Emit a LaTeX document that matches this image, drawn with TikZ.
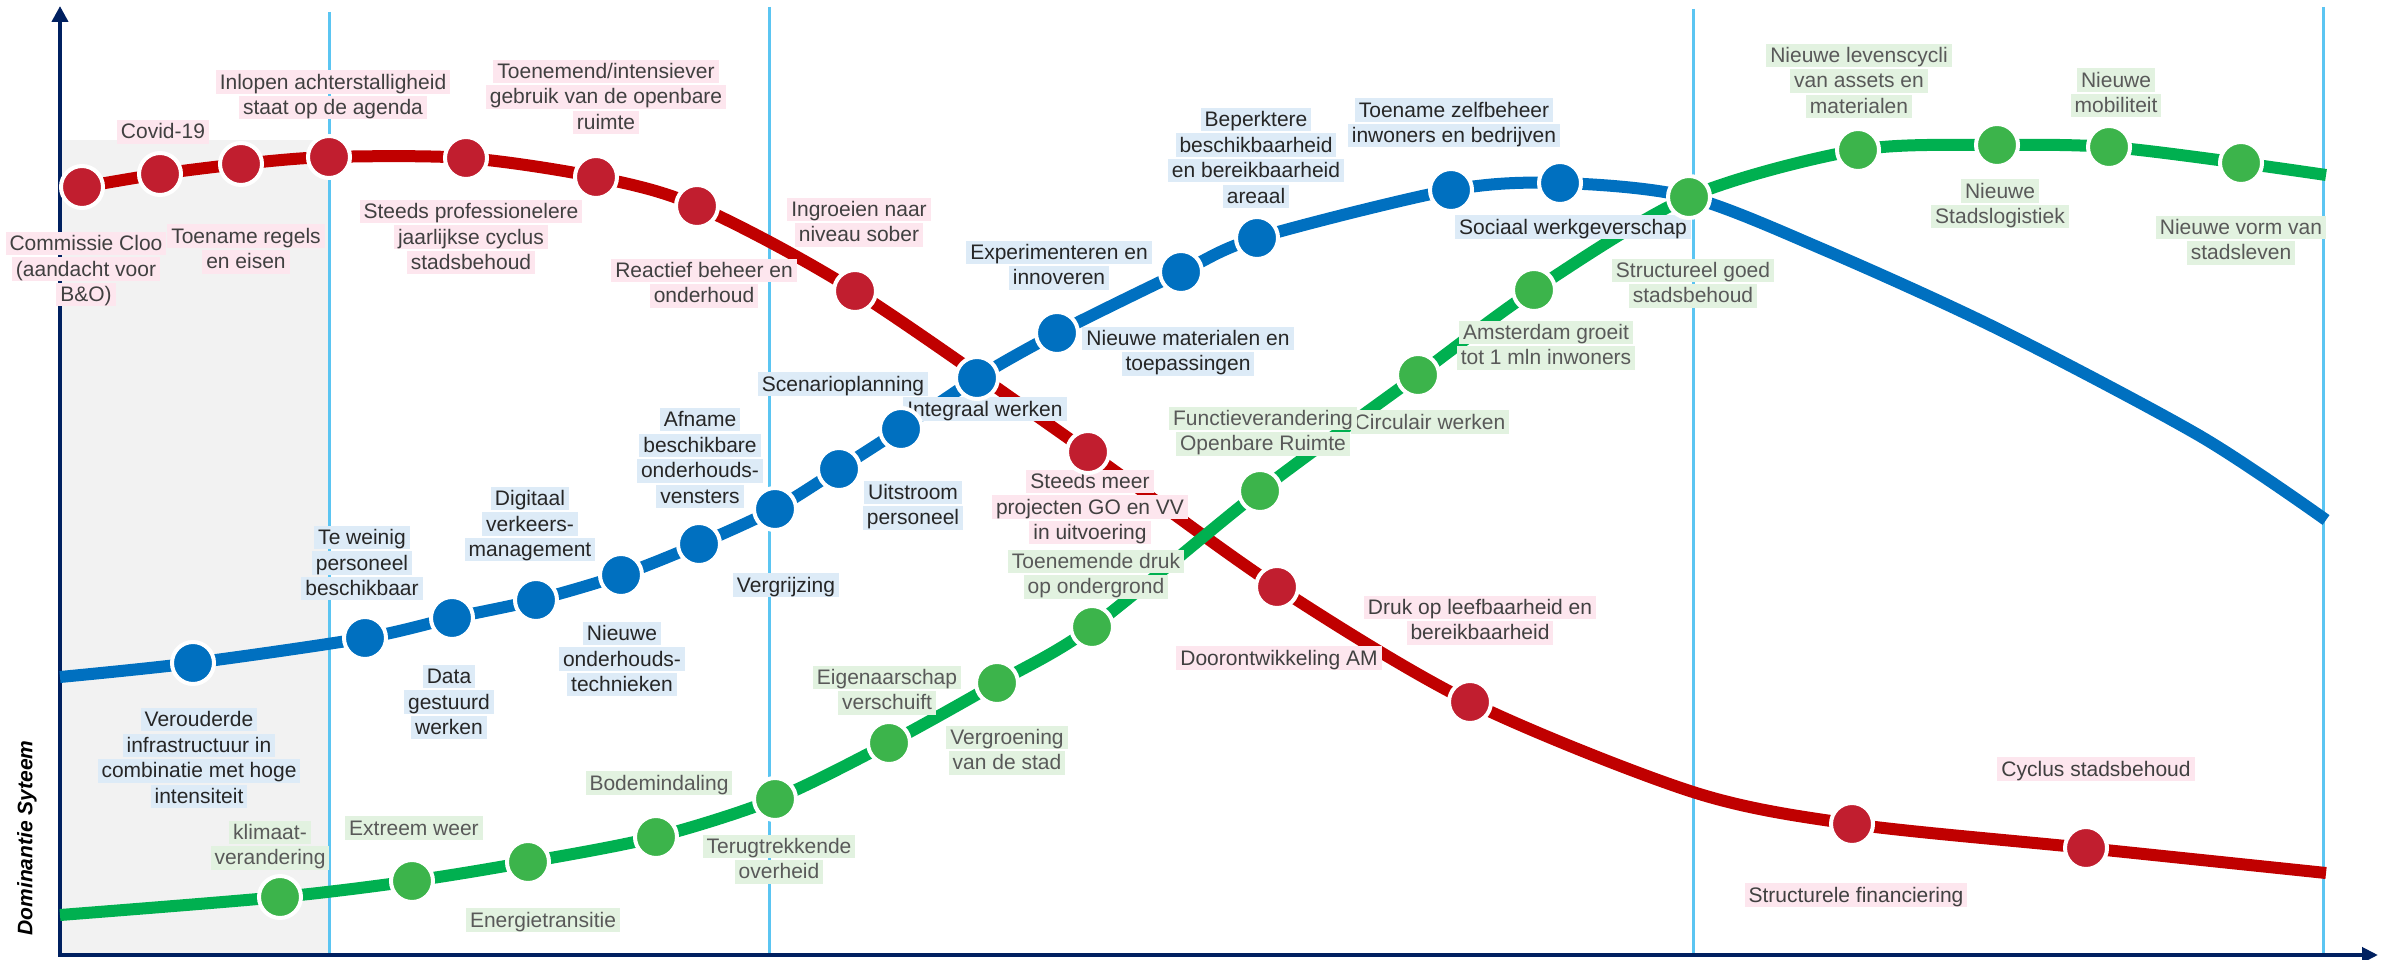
\documentclass[tikz,border=0pt]{standalone}
\usepackage{fontspec}
\setmainfont{Liberation Sans}
\usetikzlibrary{arrows.meta}

% palette
\definecolor{redline}{HTML}{C00000}
\definecolor{redmark}{HTML}{C11E2F}
\definecolor{blueline}{HTML}{0070C0}
\definecolor{bluemark}{HTML}{0070C0}
\definecolor{greenline}{HTML}{00B050}
\definecolor{greenmark}{HTML}{3CB44B}
\definecolor{pinkbg}{HTML}{FDE6EE}
\definecolor{bluebg}{HTML}{DDEBF7}
\definecolor{greenbg}{HTML}{E2F2E0}
\definecolor{redtxt}{HTML}{404040}
\definecolor{bluetxt}{HTML}{262626}
\definecolor{greentxt}{HTML}{595959}
\definecolor{vline}{HTML}{5BC5F2}
\definecolor{axisblue}{HTML}{002060}
\definecolor{panelgrey}{HTML}{F2F2F2}

\setlength{\fboxsep}{0pt}
\newcommand\lblfont{\fontsize{21}{25.6}\selectfont}
% one highlighted text line per call
\newcommand\lnR[1]{\colorbox{pinkbg}{\hspace{4pt}\rule[-4.7pt]{0pt}{23.4pt}#1\hspace{4pt}}}
\newcommand\lnB[1]{\colorbox{bluebg}{\hspace{4pt}\rule[-4.7pt]{0pt}{23.4pt}#1\hspace{4pt}}}
\newcommand\lnG[1]{\colorbox{greenbg}{\hspace{4pt}\rule[-4.7pt]{0pt}{23.4pt}#1\hspace{4pt}}}

\begin{document}
\begin{tikzpicture}[x=1pt,y=-1pt,
  lbl/.style={inner sep=0pt, align=center, font=\lblfont},
  redlbl/.style={lbl, text=redtxt},
  bluelbl/.style={lbl, text=bluetxt},
  greenlbl/.style={lbl, text=greentxt},
  bead/.style={circle, inner sep=0pt, minimum size=42pt, draw=white, line width=4pt},
  redbead/.style={bead, fill=redmark},
  bluebead/.style={bead, fill=bluemark},
  greenbead/.style={bead, fill=greenmark},
  curve/.style={line width=12pt, line join=round, line cap=butt},
  divider/.style={draw=vline, line width=3pt},
  axisline/.style={draw=axisblue, line width=4.5pt},
]
\useasboundingbox (0,0) rectangle (2387,960);

% shaded first period
\fill[panelgrey] (60,140) rectangle (329,955);

% period dividers
\draw[divider] (329,12) -- (329,955);
\draw[divider] (769,7) -- (769,955);
\draw[divider] (1693,9) -- (1693,955);
\draw[divider] (2323,7) -- (2323,955);

% axes
\coordinate (origin) at (60,955);
\coordinate (ytip) at (60,6);
\coordinate (xtip) at (2378,955);
\draw[axisline, -{Triangle[width=16pt,length=16pt]}] (origin) -- (ytip);
\draw[axisline, -{Triangle[width=15pt,length=16pt]}] (58,955) -- (xtip);
\node[font=\bfseries\itshape\fontsize{21}{25}\selectfont, rotate=90, text=black] (ylab) at (27,838) {Dominantie Syteem};

% red curve points
\coordinate (r0) at (60,191);
\coordinate (r1) at (82,187);
\coordinate (r2) at (160,174);
\coordinate (r3) at (241,164);
\coordinate (r4) at (329,157);
\coordinate (r5) at (466,158);
\coordinate (r6) at (596,177);
\coordinate (r7) at (697,206);
\coordinate (r8) at (855,291);
\coordinate (r9) at (1088,452);
\coordinate (r10) at (1277,587);
\coordinate (r11) at (1470,702);
\coordinate (ra) at (1693,792);
\coordinate (r12) at (1852,824);
\coordinate (r13) at (2086,848);
\coordinate (rE) at (2326,873);

% blue curve points
\coordinate (b0) at (60,677);
\coordinate (b1) at (193,663);
\coordinate (b2) at (365,638);
\coordinate (b3) at (452,618);
\coordinate (b4) at (536,600);
\coordinate (b5) at (621,575);
\coordinate (b6) at (699,544);
\coordinate (b7) at (775,509);
\coordinate (b8) at (839,469);
\coordinate (b9) at (901,429);
\coordinate (b10) at (977,378);
\coordinate (b11) at (1057,333);
\coordinate (b12) at (1181,272);
\coordinate (b13) at (1257,238);
\coordinate (b14) at (1451,190);
\coordinate (b15) at (1560,183);
\coordinate (ba) at (1689,197);
\coordinate (bb) at (1827,251);
\coordinate (bc) at (2000,330);
\coordinate (bd) at (2200,436);
\coordinate (bE) at (2326,520);

% green curve points
\coordinate (g0) at (60,915);
\coordinate (g1) at (280,897);
\coordinate (g2) at (412,881);
\coordinate (g3) at (528,862);
\coordinate (g4) at (656,837);
\coordinate (g5) at (775,799);
\coordinate (g6) at (889,743);
\coordinate (g7) at (997,683);
\coordinate (g8) at (1092,627);
\coordinate (g9) at (1260,491);
\coordinate (g10) at (1418,375);
\coordinate (g11) at (1534,290);
\coordinate (g12) at (1689,197);
\coordinate (g13) at (1858,150);
\coordinate (g14) at (1997,145);
\coordinate (g15) at (2109,147);
\coordinate (g16) at (2241,163);
\coordinate (gE) at (2326,175);

% curves
\draw[curve, blueline] plot[smooth, tension=0.5] coordinates {(b0) (b1) (b2) (b3) (b4) (b5) (b6) (b7) (b8) (b9) (b10) (b11) (b12) (b13) (b14) (b15) (ba) (bb) (bc) (bd) (bE)};
\draw[curve, redline] plot[smooth, tension=0.5] coordinates {(r0) (r1) (r2) (r3) (r4) (r5) (r6) (r7) (r8) (r9) (r10) (r11) (ra) (r12) (r13) (rE)};
\draw[curve, greenline] plot[smooth, tension=0.5] coordinates {(g0) (g1) (g2) (g3) (g4) (g5) (g6) (g7) (g8) (g9) (g10) (g11) (g12) (g13) (g14) (g15) (g16) (gE)};

% red labels
\node[redlbl] (lCloo) at (86,269) {\lnR{Commissie Cloo}\\\lnR{(aandacht voor}\\\lnR{B\&O)}};
\node[redlbl] (lCovid) at (163,132) {\lnR{Covid-19}};
\node[redlbl] (lRegels) at (246,249) {\lnR{Toename regels}\\\lnR{en eisen}};
\node[redlbl] (lInlopen) at (333,95) {\lnR{Inlopen achterstalligheid}\\\lnR{staat op de agenda}};
\node[redlbl] (lToenemend) at (606,97) {\lnR{Toenemend/intensiever}\\\lnR{gebruik van de openbare}\\\lnR{ruimte}};
\node[redlbl] (lProf) at (471,237) {\lnR{Steeds professionelere}\\\lnR{jaarlijkse cyclus}\\\lnR{stadsbehoud}};
\node[redlbl] (lReactief) at (704,283) {\lnR{Reactief beheer en}\\\lnR{onderhoud}};
\node[redlbl] (lIngroeien) at (859,222) {\lnR{Ingroeien naar}\\\lnR{niveau sober}};
\node[redlbl] (lSteeds) at (1090,507) {\lnR{Steeds meer}\\\lnR{projecten GO en VV}\\\lnR{in uitvoering}};
\node[redlbl] (lDruk) at (1480,620) {\lnR{Druk op leefbaarheid en}\\\lnR{bereikbaarheid}};
\node[redlbl] (lAM) at (1279,658) {\lnR{Doorontwikkeling AM}};
\node[redlbl] (lFin) at (1856,895) {\lnR{Structurele financiering}};
\node[redlbl] (lCyclus) at (2096,769) {\lnR{Cyclus stadsbehoud}};

% blue labels
\node[bluelbl] (lOud) at (199,758) {\lnB{Verouderde}\\\lnB{infrastructuur in}\\\lnB{combinatie met hoge}\\\lnB{intensiteit}};
\node[bluelbl] (lWeinig) at (362,563) {\lnB{Te weinig}\\\lnB{personeel}\\\lnB{beschikbaar}};
\node[bluelbl] (lData) at (449,702) {\lnB{Data}\\\lnB{gestuurd}\\\lnB{werken}};
\node[bluelbl] (lDigi) at (530,524) {\lnB{Digitaal}\\\lnB{verkeers-}\\\lnB{management}};
\node[bluelbl] (lTech) at (622,659) {\lnB{Nieuwe}\\\lnB{onderhouds-}\\\lnB{technieken}};
\node[bluelbl] (lAfname) at (700,458) {\lnB{Afname}\\\lnB{beschikbare}\\\lnB{onderhouds-}\\\lnB{vensters}};
\node[bluelbl] (lGrijs) at (786,585) {\lnB{Vergrijzing}};
\node[bluelbl] (lScen) at (843,384) {\lnB{Scenarioplanning}};
\node[bluelbl] (lUit) at (913,505) {\lnB{Uitstroom}\\\lnB{personeel}};
\node[bluelbl] (lInteg) at (985,409) {\lnB{Integraal werken}};
\node[bluelbl] (lExp) at (1059,265) {\lnB{Experimenteren en}\\\lnB{innoveren}};
\node[bluelbl] (lMat) at (1188,351) {\lnB{Nieuwe materialen en}\\\lnB{toepassingen}};
\node[bluelbl] (lBep) at (1256,158) {\lnB{Beperktere}\\\lnB{beschikbaarheid}\\\lnB{en bereikbaarheid}\\\lnB{areaal}};
\node[bluelbl] (lZelf) at (1454,123) {\lnB{Toename zelfbeheer}\\\lnB{inwoners en bedrijven}};
\node[bluelbl] (lSoc) at (1573,227) {\lnB{Sociaal werkgeverschap}};

% green labels
\node[greenlbl] (lKlim) at (270,845) {\lnG{klimaat-}\\\lnG{verandering}};
\node[greenlbl] (lWeer) at (414,828) {\lnG{Extreem weer}};
\node[greenlbl] (lEnergie) at (543,920) {\lnG{Energietransitie}};
\node[greenlbl] (lBodem) at (659,783) {\lnG{Bodemindaling}};
\node[greenlbl] (lTerug) at (779,859) {\lnG{Terugtrekkende}\\\lnG{overheid}};
\node[greenlbl] (lEigen) at (887,690) {\lnG{Eigenaarschap}\\\lnG{verschuift}};
\node[greenlbl] (lGroen) at (1007,750) {\lnG{Vergroening}\\\lnG{van de stad}};
\node[greenlbl] (lOnder) at (1096,574) {\lnG{Toenemende druk}\\\lnG{op ondergrond}};
\node[greenlbl] (lCirc) at (1430,422) {\lnG{Circulair werken}};
\node[greenlbl] (lFunctie) at (1263,431) {\lnG{Functieverandering}\\\lnG{Openbare Ruimte}};
\node[greenlbl] (lAdam) at (1546,345) {\lnG{Amsterdam groeit}\\\lnG{tot 1 mln inwoners}};
\node[greenlbl] (lGoed) at (1693,283) {\lnG{Structureel goed}\\\lnG{stadsbehoud}};
\node[greenlbl] (lLeven) at (1859,81) {\lnG{Nieuwe levenscycli}\\\lnG{van assets en}\\\lnG{materialen}};
\node[greenlbl] (lLog) at (2000,204) {\lnG{Nieuwe}\\\lnG{Stadslogistiek}};
\node[greenlbl] (lMob) at (2116,93) {\lnG{Nieuwe}\\\lnG{mobiliteit}};
\node[greenlbl] (lVorm) at (2241,240) {\lnG{Nieuwe vorm van}\\\lnG{stadsleven}};

% beads on the red curve
\foreach \p in {1,...,13} \node[redbead] (rm\p) at (r\p) {};
% beads on the blue curve
\foreach \p in {1,...,15} \node[bluebead] (bm\p) at (b\p) {};
% beads on the green curve
\foreach \p in {1,...,16} \node[greenbead] (gm\p) at (g\p) {};
\end{tikzpicture}
\end{document}
